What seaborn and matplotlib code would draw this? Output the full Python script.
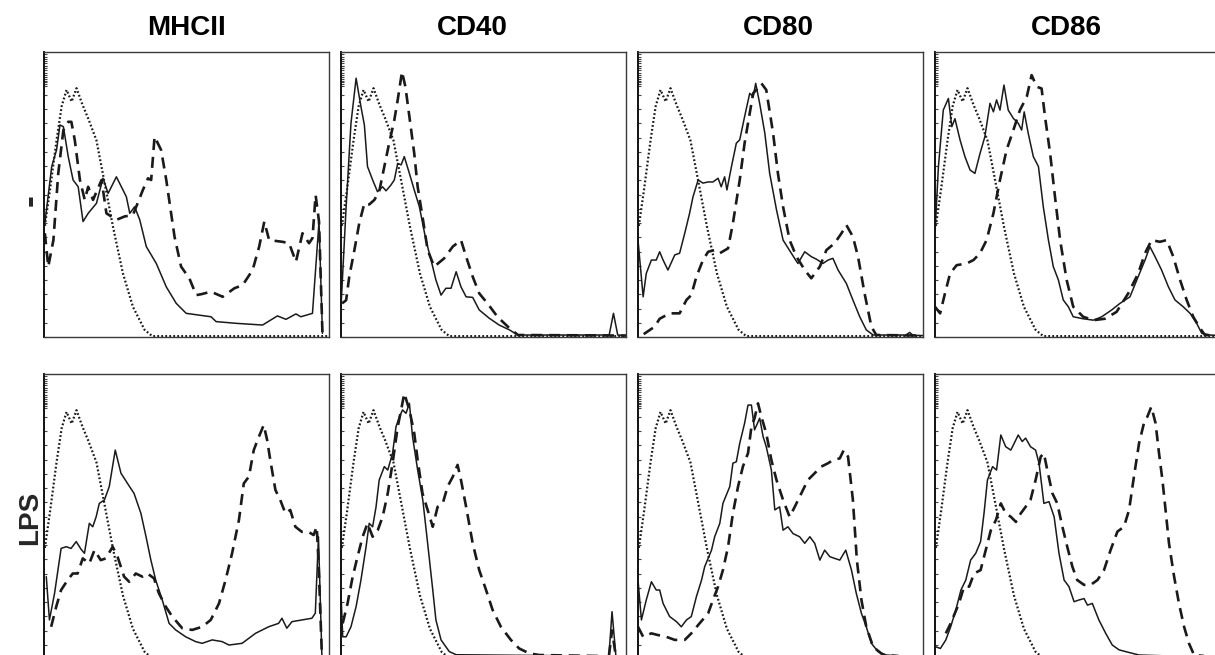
import matplotlib
matplotlib.use("Agg")
import matplotlib.pyplot as plt
import numpy as np
import pandas as pd
import seaborn as sns

sns.set_theme(style="white")
plt.rcParams["font.family"] = ["Liberation Sans", "DejaVu Sans"]

markers = ["MHCII", "CD40", "CD80", "CD86"]
conditions = ["-", "LPS"]

# Isotype control (same in every panel): x = % of axis, y = % of max count
iso_x = [0.3, 2.1, 4.4, 6.2, 7.9, 9.7, 11.4, 13.5, 15.5, 18.4, 21.3, 24.2, 27.7, 31.2, 35.3, 38.0, 100]
iso_y = [39, 51.6, 69, 81, 86.7, 82.6, 87.3, 81.5, 76.7, 69, 53.9, 38.7, 22.3, 10.6, 2.5, 0.3, 0.3]

# ---- unstimulated (-) ----
mhcii_ctrl_solid_x = [0.3, 2.7, 4.4, 5.6, 6.8, 8.5, 10.2, 12.0, 13.7, 15.5, 18.4, 20.7, 22.5, 25.4, 28.9, 30.1, 31.8, 33.6, 35.9, 39.4, 42.9, 46.4, 49.9, 58.6, 60.4, 67.4, 76.7, 81.9, 84.9, 88.4, 90.1, 94.2, 96.5, 97.7]
mhcii_ctrl_solid_y = [39.9, 59.8, 65.6, 74.4, 73.8, 63.3, 55.1, 52.7, 40.5, 43.4, 46.9, 55.7, 50.4, 56.2, 49.2, 43.4, 45.7, 41.1, 31.7, 25.8, 17.6, 11.8, 8.3, 7.1, 5.4, 4.8, 4.2, 7.4, 6.2, 8.1, 7.1, 8.3, 40.5, 1.3]
mhcii_ctrl_dash_x = [0.3, 1.5, 3.3, 5.0, 6.8, 8.5, 9.6, 10.8, 12.6, 14.3, 15.5, 17.2, 20.2, 21.9, 25.4, 28.3, 31.2, 34.7, 36.5, 37.6, 38.8, 41.1, 42.9, 45.8, 48.1, 51.0, 53.4, 55.1, 58.6, 62.7, 66.8, 69.7, 73.2, 75.5, 77.3, 79.0, 83.7, 86.0, 88.4, 90.7, 93.0, 94.2, 95.3, 96.5, 97.7]
mhcii_ctrl_dash_y = [36.4, 24.7, 34, 57.4, 72.6, 75.5, 75.5, 69.1, 55.1, 48.1, 52.7, 48.1, 55.1, 43.4, 41.1, 42.3, 42.8, 51.6, 55.7, 55.1, 70.3, 65.6, 55.1, 35.2, 24.7, 20.6, 14.7, 15.0, 15.9, 14.1, 17.1, 18.2, 23.5, 31.7, 40.5, 34, 33.4, 32.9, 26.4, 36.4, 32.9, 34.7, 49.8, 40.5, 1.3]

cd40_ctrl_solid_x = [0, 1.8, 3.5, 5.3, 7.0, 8.2, 9.3, 11.1, 12.8, 14.6, 15.8, 17.5, 18.7, 19.9, 21.1, 22.2, 24.0, 25.7, 27.5, 29.8, 31.6, 33.3, 35.1, 36.8, 38.6, 40.4, 42.1, 43.9, 46.2, 48.5, 52.0, 55.5, 59.1, 62.0, 94.1, 95.6, 97.1, 100]
cd40_ctrl_solid_y = [10.6, 45.7, 75, 90.8, 80.8, 74.4, 59.8, 55.1, 51, 52.7, 51.3, 53.3, 55.1, 60.9, 60.4, 63.3, 57.4, 51.6, 45.7, 34, 27, 20, 14.7, 17.1, 17.1, 22.9, 17.6, 14.1, 13.9, 9.5, 6.6, 4.2, 2.5, 0.7, 0.7, 8.3, 0.7, 0.5]
cd40_ctrl_dash_x = [0.4, 1.8, 2.9, 4.7, 6.4, 8.2, 9.9, 11.7, 13.4, 15.2, 16.9, 18.7, 19.9, 21.4, 22.6, 24.0, 25.7, 26.9, 28.6, 30.4, 32.7, 36.2, 39.2, 42.1, 43.9, 46.2, 48.5, 51.4, 54.9, 59.1, 62.1, 100]
cd40_ctrl_dash_y = [11.8, 12.9, 21.2, 30.5, 39.9, 46.9, 46.5, 48.1, 51, 59.8, 68, 76.1, 83.2, 93.1, 87.8, 77.3, 64.4, 52.7, 42.2, 30.5, 24.7, 27.6, 31.7, 34, 28.2, 21.2, 15.3, 11.8, 7.1, 3.1, 0.7, 0.5]

cd80_ctrl_solid_x = [0, 1.8, 2.9, 4.7, 6.4, 7.6, 8.8, 10.5, 12.9, 14.6, 16.4, 18.1, 19.3, 21.1, 22.8, 24.6, 26.3, 28.1, 29.2, 30.4, 31.2, 32.8, 34.5, 35.7, 37.4, 39.2, 40.4, 41.3, 42.7, 44.5, 46.2, 48.6, 50.9, 53.8, 56.1, 58.5, 60.8, 62.6, 64.9, 66.7, 68.4, 70.2, 73.1, 75.4, 77.8, 80.1, 82.5, 94.0, 95.3, 96.5, 100]
cd80_ctrl_solid_y = [34, 14.1, 22.3, 27, 27, 29.9, 27, 23.5, 28.8, 29.4, 36.4, 43.4, 49.2, 55.1, 54, 54.4, 54.4, 55.7, 52.7, 56.2, 51.6, 59.8, 68, 69.2, 77.3, 85.5, 84.3, 89, 81.9, 71.5, 57.4, 44.6, 34, 29.4, 25.8, 29.9, 28.2, 27.3, 25.8, 27, 27.6, 23.5, 18.8, 13, 7.1, 2.5, 0.7, 0.7, 1.6, 0.6, 0.5]
cd80_ctrl_dash_x = [2.0, 5.8, 7.6, 11.1, 14.6, 17.0, 18.7, 20.5, 22.8, 24.6, 26.9, 28.7, 31.6, 33.3, 35.7, 37.4, 39.2, 40.4, 41.5, 43.3, 45.0, 47.4, 49.1, 50.9, 53.2, 55.6, 58.5, 60.8, 63.8, 66.1, 69.0, 71.4, 73.1, 75.4, 77.2, 79.5, 81.9, 83.6, 100]
cd80_ctrl_dash_y = [1.0, 3.6, 6.4, 8.3, 8.3, 13, 14.7, 21.2, 27, 29.9, 30.5, 29.4, 31.1, 39.9, 55.1, 68, 78.5, 85.5, 86.7, 89, 86.7, 71.5, 57.4, 45.7, 34, 28.2, 23.5, 20.6, 24.7, 30.5, 32.9, 36.4, 39.3, 35.2, 28.2, 15.3, 3.6, 0.7, 0.5]

cd86_ctrl_solid_x = [0, 1.2, 2.9, 4.7, 5.9, 7.0, 8.8, 10.5, 12.3, 14.0, 15.8, 17.5, 19.3, 20.5, 21.6, 22.8, 24.2, 25.7, 27.5, 29.2, 30.4, 31.3, 32.7, 34.5, 36.3, 38.0, 39.8, 41.5, 43.3, 45.0, 46.8, 48.5, 52.0, 55.6, 58.5, 62.0, 64.9, 68.4, 71.3, 73.7, 75.4, 77.2, 79.5, 81.9, 84.2, 87.1, 89.5, 91.8, 93.6, 96.5, 100]
cd86_ctrl_solid_y = [36.4, 59.8, 79.6, 83.7, 73.8, 76.6, 69.1, 63.3, 58.6, 57.4, 64.4, 70.3, 82, 79, 83.2, 79.6, 88.4, 79.6, 76.7, 75, 72.6, 79, 71.5, 63.3, 59.8, 45.7, 34, 24.7, 20, 13, 10.6, 7.1, 6.4, 5.9, 7.1, 9.5, 11.8, 14.1, 21.2, 27, 31.7, 28.2, 23.5, 17.6, 13, 10.6, 8.3, 4.8, 1.3, 0.7, 0.5]
cd86_ctrl_dash_x = [0, 1.8, 3.5, 5.3, 7.6, 11.1, 13.5, 15.8, 18.1, 20.5, 22.8, 25.1, 27.5, 29.8, 32.2, 33.9, 35.7, 37.4, 38.6, 40.4, 42.1, 43.9, 46.2, 48.5, 52.0, 55.6, 59.6, 63.7, 67.8, 71.3, 73.7, 76.0, 78.9, 81.3, 83.6, 86.0, 88.3, 90.6, 93.0, 94.7, 100]
cd86_ctrl_dash_y = [10.6, 8.3, 15.3, 22.3, 25.2, 25.8, 27, 29.4, 34, 43.4, 55.1, 65.6, 72.6, 79.6, 84.3, 91.9, 87.8, 87.2, 77.3, 64.4, 49.2, 34, 20, 10.6, 7.1, 5.9, 6.4, 8.8, 15.3, 22.3, 29.4, 34, 33.4, 34, 28.2, 20, 13, 7.1, 3.1, 0.7, 0.5]

# ---- LPS stimulated ----
mhcii_lps_solid_x = [0.8, 1.9, 3.7, 6.0, 7.8, 9.5, 11.3, 13.0, 14.2, 15.9, 17.1, 18.3, 19.4, 21.2, 22.9, 25.0, 27.0, 29.3, 31.6, 34.0, 35.8, 37.5, 39.2, 41.5, 43.9, 46.2, 49.7, 53.2, 55.5, 59.0, 62.5, 64.9, 69.5, 74.2, 78.8, 82.3, 83.5, 85.2, 87.0, 94.0, 95.2, 96.3, 97.5]
mhcii_lps_solid_y = [28.9, 13.7, 23, 38.8, 39.4, 38.8, 41.2, 38.5, 37.1, 47.6, 46.4, 49.9, 54.6, 55.8, 60.5, 73.3, 65.2, 61.6, 58.1, 51.1, 42.9, 34.7, 27.7, 20.7, 12.5, 10.2, 7.8, 6.1, 5.5, 6.7, 6.1, 4.9, 5.5, 9, 11.3, 12.5, 14.3, 10.8, 13.1, 14.3, 16.1, 42.9, 1.4]
mhcii_lps_dash_x = [2.5, 4.3, 6.0, 8.3, 10.1, 11.8, 13.6, 15.9, 17.7, 19.9, 21.7, 24.1, 25.8, 28.1, 29.9, 32.2, 34.5, 36.3, 38.6, 40.3, 42.7, 45.0, 48.5, 52.0, 55.5, 58.5, 61.4, 63.7, 66.0, 68.4, 70.1, 71.9, 73.6, 75.4, 77.1, 78.3, 79.4, 81.2, 82.9, 84.7, 86.4, 88.2, 90.5, 92.8, 94.6, 95.7, 96.3, 97.5]
mhcii_lps_dash_y = [11.3, 18.4, 24.2, 27.7, 30, 30, 35.3, 33.5, 38.2, 34.7, 35.3, 39.4, 35.9, 28.9, 27.1, 30, 28.9, 30, 28.3, 23.1, 18.4, 14.9, 10.8, 10.2, 11.3, 13.7, 19.5, 27.7, 37.1, 48.8, 61.6, 64, 73.3, 78, 82.1, 76.8, 69.8, 59.3, 55.8, 51.1, 52.3, 46.4, 44.6, 44.6, 43.5, 46.4, 34.7, 1.4]

cd40_lps_solid_x = [0, 0.6, 1.8, 3.5, 5.3, 7.0, 8.8, 9.9, 11.1, 12.3, 13.4, 15.2, 16.4, 18.1, 19.3, 20.5, 21.6, 22.8, 24.0, 25.1, 26.9, 28.7, 30.4, 32.2, 33.3, 35.1, 38.0, 40.4, 94.0, 95.1, 96.5, 100]
cd40_lps_solid_y = [23, 7.8, 7.8, 11.3, 18.4, 27.7, 39.4, 47.6, 46.4, 53.4, 62.8, 67.5, 66.3, 72.2, 81.5, 85, 87.4, 86.2, 89.7, 78, 66.3, 55.8, 40.6, 24.2, 13.7, 6.7, 2.6, 1.5, 1.0, 16.6, 0.5, 0.5]
cd40_lps_dash_x = [0.6, 2.3, 4.1, 5.8, 7.6, 9.3, 11.1, 12.9, 14.6, 16.4, 18.1, 19.9, 21.1, 22.2, 24.0, 25.7, 26.9, 28.6, 30.4, 32.2, 33.9, 35.7, 37.4, 39.2, 40.9, 42.1, 43.9, 46.2, 48.5, 50.9, 53.2, 56.1, 59.6, 62.5, 66.0, 69.5, 94.0, 95.1, 96.5, 100]
cd40_lps_dash_y = [12.5, 19.5, 28.9, 35.9, 42.9, 47.6, 42.9, 45.2, 49.9, 58.1, 68.7, 81.5, 87.4, 93.2, 87.4, 79.2, 69.8, 58.1, 52.3, 46.4, 53.4, 54.6, 60.5, 63.9, 68.1, 62.8, 53.4, 40.6, 31.2, 24.2, 17.2, 11.3, 6.7, 3.7, 2, 1.4, 1.0, 10.0, 0.5, 0.5]

cd80_lps_solid_x = [0, 1.2, 2.9, 4.7, 6.4, 7.6, 8.8, 11.1, 13.5, 15.2, 17.0, 18.7, 20.5, 22.3, 23.4, 25.8, 26.9, 28.7, 29.8, 32.2, 33.3, 34.5, 35.7, 37.4, 38.6, 39.8, 40.9, 42.7, 43.9, 45.0, 46.8, 48.0, 49.7, 50.9, 52.6, 54.4, 56.7, 58.5, 60.3, 62.0, 63.8, 65.5, 67.3, 69.0, 70.8, 72.9, 74.9, 76.6, 78.4, 80.1, 81.9, 84.2, 87.1, 100]
cd80_lps_solid_y = [27.7, 13.7, 20.7, 27.1, 24.2, 24.2, 19.5, 14.9, 13.1, 11.3, 13.7, 14.9, 21.9, 27.7, 32.4, 38.2, 42.9, 47.6, 54.6, 60.5, 68.7, 69.2, 75.7, 82.7, 89.1, 89.1, 80.4, 84.5, 78, 74.5, 66.3, 52.3, 53.4, 45.2, 46.4, 44, 42.9, 40.6, 42.9, 40.6, 34.7, 38.2, 35.9, 35.3, 34.7, 38.2, 31.2, 23, 16, 11.3, 5.5, 2.6, 1.4, 0.5]
cd80_lps_dash_x = [0, 1.8, 4.7, 7.0, 9.9, 12.9, 16.4, 18.7, 21.6, 24.6, 26.3, 28.1, 29.8, 31.6, 33.3, 35.1, 36.8, 38.6, 39.8, 40.9, 42.1, 43.3, 45.0, 46.8, 48.6, 50.9, 53.2, 55.0, 57.3, 59.6, 62.0, 64.3, 66.7, 68.4, 70.8, 72.2, 73.7, 75.4, 76.8, 78.4, 80.1, 82.5, 86.0, 100]
cd80_lps_dash_y = [11.3, 7.8, 9, 8.4, 7.8, 6.7, 6.7, 9, 12.5, 16, 20.7, 25.4, 31.2, 39.4, 51.1, 60.5, 67.5, 72.2, 81.5, 84.5, 89.7, 85, 79.2, 69.8, 62.8, 55.8, 49.9, 53.4, 58.1, 62.8, 65.2, 67.5, 68.7, 69.8, 70.4, 73.3, 71, 55.8, 34.7, 20.7, 11.3, 4.3, 1.4, 0.5]

cd86_lps_solid_x = [0.2, 1.9, 3.8, 5.5, 7.3, 9.1, 10.8, 12.5, 14.3, 16.0, 17.2, 18.4, 20.2, 21.6, 23.1, 24.8, 26.6, 27.8, 29.2, 30.6, 31.8, 33.5, 35.3, 36.5, 38.2, 40.0, 41.8, 43.5, 45.3, 47.0, 48.8, 50.5, 52.3, 53.5, 55.2, 57.5, 59.9, 62.2, 64.6, 69.2, 71.6, 100]
cd86_lps_solid_y = [4.3, 3.7, 6.7, 11.3, 17.2, 24.2, 27.7, 34.7, 37.1, 41.2, 51.1, 62.8, 67.5, 66.3, 78.6, 74.5, 73.3, 75.7, 78.6, 76.3, 77.5, 74.5, 73.3, 68.7, 54.6, 55.2, 49.9, 37.1, 27.7, 25.4, 20.1, 20.7, 21.2, 18.9, 19.5, 13.7, 9, 4.9, 3.2, 2, 1.4, 0.5]
cd86_lps_dash_x = [3.8, 5.5, 8.4, 10.2, 12.0, 13.7, 16.0, 17.8, 19.6, 21.4, 23.1, 24.8, 26.6, 28.4, 30.1, 31.8, 33.5, 35.3, 37.1, 38.2, 39.4, 41.2, 42.9, 44.7, 46.4, 48.2, 49.9, 52.3, 54.6, 57.0, 59.3, 61.6, 64.0, 66.3, 68.1, 69.8, 71.6, 73.3, 74.5, 75.9, 77.4, 78.6, 79.8, 80.9, 82.1, 83.9, 85.6, 87.4, 89.1, 90.9, 100]
cd86_lps_dash_y = [9, 12.5, 19.5, 25.4, 25.4, 30, 31.2, 38.2, 45.2, 48.8, 54.6, 51.1, 49.9, 48.1, 51.1, 53.4, 55.8, 62.8, 71, 72.2, 66.3, 58.1, 54.6, 46.4, 39.4, 32.4, 27.7, 26, 26, 27.7, 31.2, 38.2, 44.7, 46.4, 52.3, 64, 75.7, 82.7, 85, 88.5, 82.7, 72.2, 62.8, 52.3, 40.6, 28.9, 19.5, 11.3, 5.5, 1.4, 0.5]

panels = {
    ("-", "MHCII"): (mhcii_ctrl_solid_x, mhcii_ctrl_solid_y, mhcii_ctrl_dash_x, mhcii_ctrl_dash_y),
    ("-", "CD40"): (cd40_ctrl_solid_x, cd40_ctrl_solid_y, cd40_ctrl_dash_x, cd40_ctrl_dash_y),
    ("-", "CD80"): (cd80_ctrl_solid_x, cd80_ctrl_solid_y, cd80_ctrl_dash_x, cd80_ctrl_dash_y),
    ("-", "CD86"): (cd86_ctrl_solid_x, cd86_ctrl_solid_y, cd86_ctrl_dash_x, cd86_ctrl_dash_y),
    ("LPS", "MHCII"): (mhcii_lps_solid_x, mhcii_lps_solid_y, mhcii_lps_dash_x, mhcii_lps_dash_y),
    ("LPS", "CD40"): (cd40_lps_solid_x, cd40_lps_solid_y, cd40_lps_dash_x, cd40_lps_dash_y),
    ("LPS", "CD80"): (cd80_lps_solid_x, cd80_lps_solid_y, cd80_lps_dash_x, cd80_lps_dash_y),
    ("LPS", "CD86"): (cd86_lps_solid_x, cd86_lps_solid_y, cd86_lps_dash_x, cd86_lps_dash_y),
}

W, H = 1215, 655
fig = plt.figure(figsize=(W / 100, H / 100), dpi=100)

col_left = [44, 341, 638, 935]
row_top = [52, 374]
pw, ph = 285, 285
title_x = [187, 472, 778, 1066]

line_color = "#1a1a1a"
for r, cond in enumerate(conditions):
    for c, mk in enumerate(markers):
        ax = fig.add_axes([col_left[c] / W, 1 - (row_top[r] + ph) / H, pw / W, ph / H])
        sx, sy, dx, dy = panels[(cond, mk)]
        sns.lineplot(x=iso_x, y=iso_y, ax=ax, color=line_color, lw=1.6,
                     linestyle=(0, (0.8, 1.0)), sort=False, estimator=None)
        sns.lineplot(x=dx, y=dy, ax=ax, color=line_color, lw=1.9,
                     linestyle=(0, (4.2, 2.6)), sort=False, estimator=None)
        sns.lineplot(x=sx, y=sy, ax=ax, color=line_color, lw=1.1,
                     sort=False, estimator=None)
        ax.set_xlim(0, 100)
        ax.set_ylim(0, 100)
        ax.set_xlabel("")
        ax.set_ylabel("")
        ax.set_xticks([])
        ax.set_yticks(np.arange(0, 100, 5))
        ax.set_yticks(np.arange(88, 100, 0.8), minor=True)
        ax.set_yticklabels([])
        ax.tick_params(axis="y", which="major", direction="in", length=2.5,
                       width=0.8, color="#444", left=True)
        ax.tick_params(axis="y", which="minor", direction="in", length=2.5,
                       width=0.8, color="#444", left=True)
        for side, sp in ax.spines.items():
            sp.set_visible(True)
            sp.set_color("#3a3a3a")
            sp.set_linewidth(1.0)
        ax.spines["left"].set_linewidth(1.4)
        ax.spines["left"].set_color("#111")
        if r == 0:
            fig.text(title_x[c] / W, 1 - 28 / H, mk, ha="center", va="center",
                     fontsize=20, fontweight="bold", color="black")

fig.text(30 / W, 1 - 200 / H, "-", rotation=90, ha="center", va="center",
         fontsize=26, fontweight="bold")
fig.text(30 / W, 1 - 518 / H, "LPS", rotation=90, ha="center", va="center",
         fontsize=20, fontweight="bold")

fig.savefig("out.png", dpi=100, facecolor="white")
